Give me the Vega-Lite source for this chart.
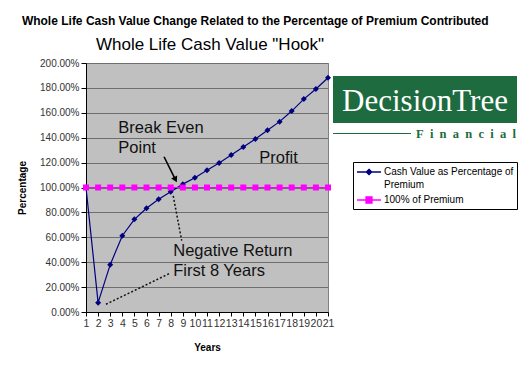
{
  "$schema": "https://vega.github.io/schema/vega-lite/v6.json",
  "background": "white",
  "padding": {"left": 17, "top": 14, "right": 2, "bottom": 5},
  "title": {
    "text": "Whole Life Cash Value Change Related to the Percentage of Premium Contributed",
    "font": "Liberation Sans",
    "fontSize": 12,
    "fontWeight": "bold",
    "color": "black",
    "anchor": "middle",
    "offset": 8,
    "dx": -12
  },
  "datasets": {
    "series": [
      {"year": 1, "series": "Cash Value as Percentage of Premium", "value": 1.0},
      {"year": 2, "series": "Cash Value as Percentage of Premium", "value": 0.075},
      {"year": 3, "series": "Cash Value as Percentage of Premium", "value": 0.38},
      {"year": 4, "series": "Cash Value as Percentage of Premium", "value": 0.613},
      {"year": 5, "series": "Cash Value as Percentage of Premium", "value": 0.744},
      {"year": 6, "series": "Cash Value as Percentage of Premium", "value": 0.833},
      {"year": 7, "series": "Cash Value as Percentage of Premium", "value": 0.905},
      {"year": 8, "series": "Cash Value as Percentage of Premium", "value": 0.966},
      {"year": 9, "series": "Cash Value as Percentage of Premium", "value": 1.027},
      {"year": 10, "series": "Cash Value as Percentage of Premium", "value": 1.079},
      {"year": 11, "series": "Cash Value as Percentage of Premium", "value": 1.138},
      {"year": 12, "series": "Cash Value as Percentage of Premium", "value": 1.197},
      {"year": 13, "series": "Cash Value as Percentage of Premium", "value": 1.261},
      {"year": 14, "series": "Cash Value as Percentage of Premium", "value": 1.325},
      {"year": 15, "series": "Cash Value as Percentage of Premium", "value": 1.39},
      {"year": 16, "series": "Cash Value as Percentage of Premium", "value": 1.459},
      {"year": 17, "series": "Cash Value as Percentage of Premium", "value": 1.529},
      {"year": 18, "series": "Cash Value as Percentage of Premium", "value": 1.614},
      {"year": 19, "series": "Cash Value as Percentage of Premium", "value": 1.71},
      {"year": 20, "series": "Cash Value as Percentage of Premium", "value": 1.791},
      {"year": 21, "series": "Cash Value as Percentage of Premium", "value": 1.882},
      {"year": 1, "series": "100% of Premium", "value": 1.0},
      {"year": 2, "series": "100% of Premium", "value": 1.0},
      {"year": 3, "series": "100% of Premium", "value": 1.0},
      {"year": 4, "series": "100% of Premium", "value": 1.0},
      {"year": 5, "series": "100% of Premium", "value": 1.0},
      {"year": 6, "series": "100% of Premium", "value": 1.0},
      {"year": 7, "series": "100% of Premium", "value": 1.0},
      {"year": 8, "series": "100% of Premium", "value": 1.0},
      {"year": 9, "series": "100% of Premium", "value": 1.0},
      {"year": 10, "series": "100% of Premium", "value": 1.0},
      {"year": 11, "series": "100% of Premium", "value": 1.0},
      {"year": 12, "series": "100% of Premium", "value": 1.0},
      {"year": 13, "series": "100% of Premium", "value": 1.0},
      {"year": 14, "series": "100% of Premium", "value": 1.0},
      {"year": 15, "series": "100% of Premium", "value": 1.0},
      {"year": 16, "series": "100% of Premium", "value": 1.0},
      {"year": 17, "series": "100% of Premium", "value": 1.0},
      {"year": 18, "series": "100% of Premium", "value": 1.0},
      {"year": 19, "series": "100% of Premium", "value": 1.0},
      {"year": 20, "series": "100% of Premium", "value": 1.0},
      {"year": 21, "series": "100% of Premium", "value": 1.0}
    ],
    "notes": [
      {"year": 3.67, "value": 1.474, "label": "Break Even"},
      {"year": 3.67, "value": 1.317, "label": "Point"},
      {"year": 15.32, "value": 1.234, "label": "Profit"},
      {"year": 8.21, "value": 0.49, "label": "Negative Return"},
      {"year": 8.21, "value": 0.332, "label": "First 8 Years"}
    ],
    "dotted": [
      {"year": 8.21, "value": 0.932, "year2": 8.91, "value2": 0.573},
      {"year": 2.65, "value": 0.062, "year2": 7.94, "value2": 0.311}
    ],
    "arrow": [
      {"year": 7.45, "value": 1.247, "year2": 8.36, "value2": 1.07}
    ],
    "arrowhead": [
      {"year": 8.36, "value": 1.07}
    ],
    "logo": [{"name": "DecisionTree", "sub": "F\u2002i\u2002n\u2002a\u2002n\u2002c\u2002i\u2002a\u2002l"}]
  },
  "spacing": 5,
  "bounds": "flush",
  "hconcat": [
    {
      "width": 242,
      "height": 249,
      "title": {
        "text": "Whole Life Cash Value \"Hook\"",
        "font": "Liberation Sans",
        "fontSize": 17,
        "fontWeight": "normal",
        "color": "black",
        "anchor": "middle",
        "offset": 4,
        "dx": 3
      },
      "encoding": {
        "x": {
          "field": "year",
          "type": "quantitative",
          "scale": {"domain": [1, 21], "nice": false, "zero": false},
          "axis": {
            "title": "Years",
            "values": [1, 2, 3, 4, 5, 6, 7, 8, 9, 10, 11, 12, 13, 14, 15, 16, 17, 18, 19, 20, 21],
            "format": "d",
            "labelOverlap": false,
            "labelFlush": false,
            "grid": false
          }
        },
        "y": {
          "field": "value",
          "type": "quantitative",
          "scale": {"domain": [0, 2], "nice": false},
          "axis": {
            "title": "Percentage",
            "values": [0, 0.2, 0.4, 0.6, 0.8, 1, 1.2, 1.4, 1.6, 1.8, 2],
            "format": ".2%",
            "labelOverlap": false,
            "grid": true
          }
        }
      },
      "layer": [
        {
          "data": {"name": "series"},
          "mark": {"type": "line", "strokeWidth": 1.2},
          "encoding": {
            "color": {
              "field": "series",
              "type": "nominal",
              "scale": {
                "domain": ["Cash Value as Percentage of Premium", "100% of Premium"],
                "range": ["#000080", "#FF00FF"]
              },
              "legend": {
                "title": null,
                "orient": "none",
                "legendX": 267,
                "legendY": 99,
                "padding": 3,
                "labelOffset": 14,
                "labelFontSize": 10,
                "symbolSize": 144,
                "labelExpr": "datum.label == 'Cash Value as Percentage of Premium' ? ['Cash Value as Percentage of', 'Premium'] : datum.label",
                "encode": {
                  "labels": {
                    "update": {"lineHeight": {"value": 13}}
                  },
                  "symbols": {
                    "update": {
                      "shape": {"signal": "datum.value == '100% of Premium' ? 'M-1,0H3M0.5,-0.5H1.5V0.5H0.5Z' : 'M-1,0H3M1,-0.45L1.45,0L1,0.45L0.55,0Z'"},
                      "fill": {"scale": "color", "field": "value"},
                      "stroke": {"scale": "color", "field": "value"},
                      "strokeWidth": {"value": 1.3},
                      "size": {"value": 144}
                    }
                  }
                }
              }
            }
          }
        },
        {
          "data": {"name": "series"},
          "transform": [{"filter": "datum.series == 'Cash Value as Percentage of Premium'"}],
          "mark": {"type": "point", "shape": "diamond", "filled": true, "opacity": 1, "size": 36, "color": "#000080"}
        },
        {
          "data": {"name": "series"},
          "transform": [{"filter": "datum.series == '100% of Premium'"}],
          "mark": {"type": "point", "shape": "square", "filled": true, "opacity": 1, "size": 36, "color": "#FF00FF"}
        },
        {
          "data": {"name": "dotted"},
          "mark": {"type": "rule", "strokeDash": [2, 2], "strokeWidth": 1.5, "color": "#111111"},
          "encoding": {
            "x2": {"field": "year2"},
            "y2": {"field": "value2"}
          }
        },
        {
          "data": {"name": "arrow"},
          "mark": {"type": "rule", "strokeWidth": 1.6, "color": "black"},
          "encoding": {
            "x2": {"field": "year2"},
            "y2": {"field": "value2"}
          }
        },
        {
          "data": {"name": "arrowhead"},
          "mark": {"type": "point", "shape": "triangle", "angle": 153, "size": 45, "filled": true, "opacity": 1, "color": "black"}
        },
        {
          "data": {"name": "notes"},
          "mark": {"type": "text", "align": "left", "baseline": "middle", "fontSize": 16.5, "font": "Liberation Sans", "color": "#111111"},
          "encoding": {
            "text": {"field": "label"}
          }
        }
      ]
    },
    {
      "spacing": 10,
      "bounds": "flush",
      "vconcat": [
        {
          "width": 184,
          "height": 3,
          "data": {"name": "logo"},
          "mark": {"type": "rect", "opacity": 0},
          "encoding": {}
        },
        {
          "width": 184,
          "height": 47,
          "data": {"name": "logo"},
          "layer": [
            {"mark": {"type": "rect", "color": "#1D6B3E"}, "encoding": {}},
            {
              "mark": {"type": "text", "font": "Liberation Serif", "fontSize": 31, "color": "white", "align": "center", "baseline": "middle", "dy": 2},
              "encoding": {"text": {"field": "name"}}
            }
          ]
        },
        {
          "spacing": 5,
          "bounds": "flush",
          "hconcat": [
            {
              "width": 78,
              "height": 1,
              "data": {"name": "logo"},
              "mark": {"type": "rect", "color": "#1D6B3E"},
              "encoding": {}
            },
            {
              "width": 100,
              "height": 1,
              "data": {"name": "logo"},
              "mark": {"type": "text", "font": "Liberation Serif", "fontSize": 12.5, "fontWeight": "bold", "color": "#1D6B3E", "align": "center", "baseline": "middle"},
              "encoding": {"text": {"field": "sub"}}
            }
          ]
        }
      ]
    }
  ],
  "config": {
    "font": "Liberation Sans",
    "view": {"fill": "#C0C0C0", "stroke": "#808080", "strokeWidth": 1},
    "axis": {
      "labelFont": "Liberation Sans",
      "labelColor": "#333333",
      "domainColor": "#000000",
      "tickColor": "#000000",
      "gridColor": "#6E6E6E",
      "gridOpacity": 1,
      "tickSize": 5,
      "titleFont": "Liberation Sans",
      "titleFontWeight": "bold",
      "titleFontSize": 10,
      "titleColor": "black"
    },
    "axisY": {"labelFontSize": 10, "labelPadding": 2, "titlePadding": 12},
    "axisX": {"labelFontSize": 10.5, "labelPadding": 2, "titlePadding": 14, "tickSize": 4},
    "legend": {
      "strokeColor": "black",
      "fillColor": "white",
      "cornerRadius": 0,
      "labelFont": "Liberation Sans",
      "labelColor": "black",
      "labelLimit": 0,
      "rowPadding": 3
    }
  }
}
